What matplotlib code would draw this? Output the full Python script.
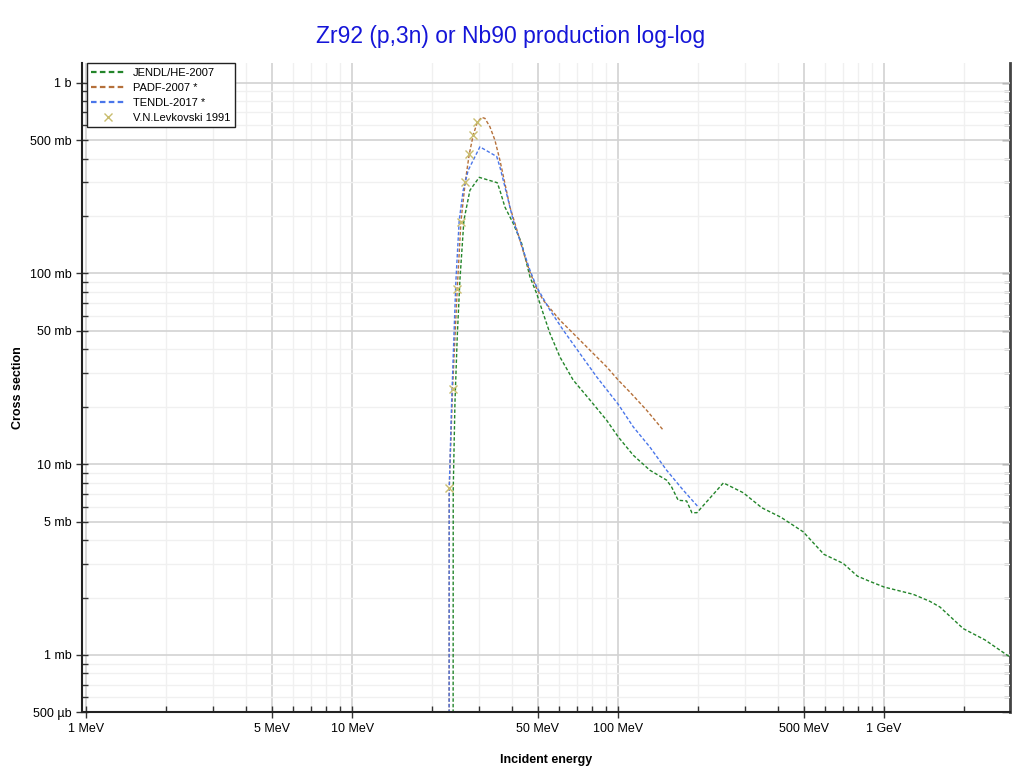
import matplotlib
matplotlib.use("Agg")
import matplotlib.pyplot as plt
from matplotlib.ticker import FixedLocator, NullFormatter

plt.rcParams["font.family"] = ["Liberation Sans", "DejaVu Sans"]

# energies in MeV, cross sections in mb
jendl_e = [23.95, 24.01, 24.37, 24.86, 25.44, 26.34, 27.75, 30.08, 35.15, 35.97, 37.57,
           40.37, 43.42, 46.67, 49.45, 52.36, 55.5, 60.5, 67.9, 78.5, 90.7, 100.3,
           114.2, 131.9, 152.5, 159.2, 168.6, 181.3, 189.8, 198.3, 249.4, 296, 348,
           410.6, 498, 595.7, 704, 796.3, 887.5, 1004, 1291, 1492, 1627, 1991, 2403,
           2908, 3000]
jendl_xs = [1e-3, 7.3, 20.9, 46.5, 92.2, 190, 273, 319, 299, 273, 223,
            183, 144, 96, 78.6, 61.7, 48.5, 36.5, 27.6, 21.7, 17.0, 13.9,
            11.15, 9.3, 8.25, 7.6, 6.47, 6.42, 5.57, 5.57, 7.98, 7.09, 5.91,
            5.27, 4.42, 3.37, 3.02, 2.59, 2.43, 2.27, 2.08, 1.91, 1.785, 1.375, 1.20,
            1.0, 0.97]

padf_e = [23.15, 23.19, 23.88, 24.86, 25.67, 26.66, 27.58, 28.55, 29.56, 30.7, 31.6,
          33.0, 34.45, 35.97, 37.57, 39.24, 40.98, 42.78, 44.68, 46.67, 49.45, 52.36,
          60.5, 67.9, 78.5, 90.7, 100.3, 110.9, 128.2, 148]
padf_xs = [1e-3, 7.4, 24.9, 82.9, 187, 303, 421, 531, 619, 658, 650,
           587, 500, 393, 296.5, 223, 183, 149.5, 122, 101.6, 83.4, 72.4,
           56.9, 48.5, 39.6, 32.4, 27.6, 23.9, 19.2, 15.1]

tendl_e = [23.13, 23.19, 23.68, 24.15, 24.58, 25.29, 26.18, 27.35, 30.26, 35.0, 35.97,
           37.57, 40.37, 42.78, 46.67, 49.45, 55.5, 62.3, 71.9, 83.2, 100.3, 114.2,
           131.9, 152.5, 176.1, 200.5]
tendl_xs = [1e-3, 7.31, 20.9, 46.5, 92.2, 190, 273, 348, 461, 410, 362,
            284.5, 190, 149.5, 104, 85.1, 64.2, 50.4, 38.1, 28.7, 20.6, 15.7,
            12.3, 9.3, 7.31, 5.97]

levk_e = [23.19, 23.88, 24.86, 25.67, 26.66, 27.58, 28.55, 29.56]
levk_xs = [7.46, 24.9, 82.9, 187, 303, 421, 531, 619]

x_ticks = [1, 5, 10, 50, 100, 500, 1000]
x_labels = ["1 MeV", "5 MeV", "10 MeV", "50 MeV", "100 MeV", "500 MeV", "1 GeV"]
y_ticks = [0.5, 1, 5, 10, 50, 100, 500, 1000]
y_labels = ["500 µb", "1 mb", "5 mb", "10 mb", "50 mb", "100 mb", "500 mb", "1 b"]

fig = plt.figure(figsize=(10.22, 7.73), dpi=100)
ax = fig.add_axes([0.0802, 0.0784, 0.908, 0.840])

dash = (0, (2.5, 1.5))
ax.plot(jendl_e, jendl_xs, color="#23852a", lw=1.0, linestyle=dash, label="JENDL/HE-2007")
ax.plot(padf_e, padf_xs, color="#b5703a", lw=1.0, linestyle=dash, label="PADF-2007 *")
ax.plot(tendl_e, tendl_xs, color="#4a76ea", lw=1.0, linestyle=dash, label="TENDL-2017 *")
ax.plot(levk_e, levk_xs, linestyle="none", marker="x", ms=6, mew=1.0,
        color="#c9bd6e", label="V.N.Levkovski 1991")

ax.set_xscale("log")
ax.set_yscale("log")
ax.set_xlim(0.963, 2985)
ax.set_ylim(0.5, 1267)

xminor = [m * 10 ** k for k in range(0, 4) for m in (2, 3, 4, 6, 7, 8, 9)]
yminor = [m * 10 ** k for k in range(-1, 4) for m in (2, 3, 4, 6, 7, 8, 9)]

ax.xaxis.set_major_locator(FixedLocator(x_ticks))
ax.set_xticklabels(x_labels)
ax.xaxis.set_minor_locator(FixedLocator(xminor))
ax.xaxis.set_minor_formatter(NullFormatter())

ax.yaxis.set_major_locator(FixedLocator(y_ticks))
ax.set_yticklabels(y_labels)
ax.yaxis.set_minor_locator(FixedLocator(yminor))
ax.yaxis.set_minor_formatter(NullFormatter())

ax.grid(True, which="major", color="#d2d2d2", lw=1.2)
ax.grid(True, which="minor", color="#f0f0f0", lw=1.0)
ax.set_axisbelow(True)

ax.tick_params(axis="both", which="major", direction="inout", length=8, width=1,
               labelsize=9, top=False, right=False, color="#333333")
ax.tick_params(axis="both", which="minor", direction="in", length=4, width=1,
               top=False, right=False, color="#333333")

# right side: inward ticks only
rax = ax.secondary_yaxis("right")
rax.yaxis.set_major_locator(FixedLocator(y_ticks))
rax.yaxis.set_minor_locator(FixedLocator(yminor))
rax.yaxis.set_major_formatter(NullFormatter())
rax.yaxis.set_minor_formatter(NullFormatter())
rax.tick_params(which="major", direction="in", length=6, width=1, color="#333333")
rax.tick_params(which="minor", direction="in", length=4, width=1, color="#333333")
rax.spines["right"].set_linewidth(2.0)
rax.spines["right"].set_color("#444444")

for side in ("left", "bottom"):
    ax.spines[side].set_linewidth(1.5)
    ax.spines[side].set_color("#222222")
ax.spines["right"].set_visible(False)
ax.spines["top"].set_visible(False)

ax.set_xlabel("Incident energy", fontsize=9, fontweight="bold", labelpad=14)
ax.set_ylabel("Cross section", fontsize=9, fontweight="bold")
ax.yaxis.set_label_coords(-0.062, 0.5)
fig.suptitle("Zr92 (p,3n) or Nb90 production log-log", color="#1515d8",
             fontsize=16.5, y=0.968)

leg = ax.legend(loc="upper left", bbox_to_anchor=(0.005, 1.0), borderaxespad=0,
                fontsize=8, fancybox=False, framealpha=1, edgecolor="#222222",
                handlelength=3.0, labelspacing=0.45)
leg.get_frame().set_linewidth(1.0)
for h in leg.get_lines():
    h.set_linewidth(1.6)

fig.savefig("out.png", dpi=100)
